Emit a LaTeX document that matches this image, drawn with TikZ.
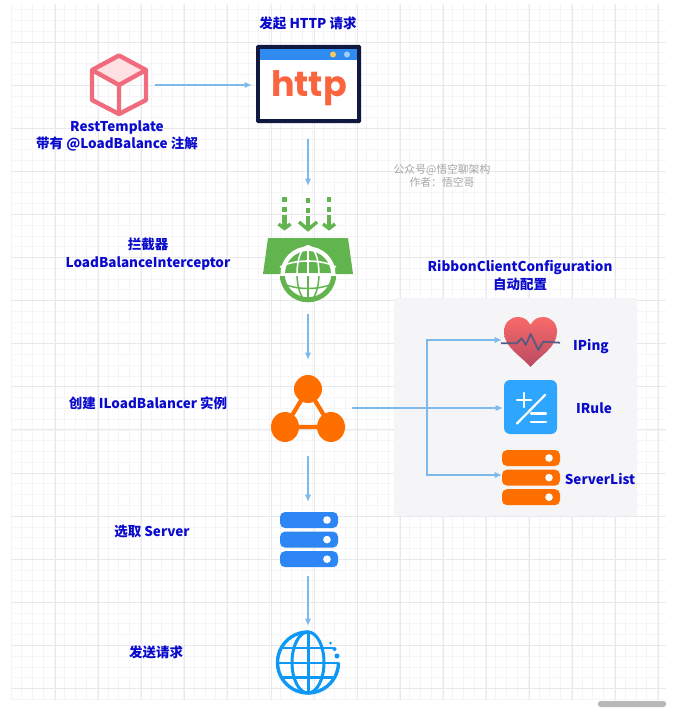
\documentclass[tikz,border=0pt]{standalone}
\usepackage{fontspec}
\setmainfont{Noto Sans CJK SC}
\newfontfamily\httpfont{Poppins}
\usetikzlibrary{arrows.meta}
\definecolor{gridminor}{HTML}{F5F5F8}
\definecolor{gridmajor}{HTML}{E8E8ED}
\definecolor{flowc}{HTML}{7DB9EA}
\definecolor{labelc}{HTML}{0A0ACD}
\definecolor{cubec}{HTML}{F06C7C}
\definecolor{cubetop}{HTML}{FFE1E4}
\definecolor{navy}{HTML}{101A40}
\definecolor{httpblue}{HTML}{2F8BF0}
\definecolor{httpor}{HTML}{FA6540}
\definecolor{dotyel}{HTML}{F5C860}
\definecolor{dotblu}{HTML}{9CD0FA}
\definecolor{green1}{HTML}{62B44F}
\definecolor{orange1}{HTML}{FF6F00}
\definecolor{blue1}{HTML}{2E86F5}
\definecolor{globec}{HTML}{0E98F5}
\definecolor{panelc}{HTML}{F5F5F7}
\definecolor{ruleb}{HTML}{2EA6FF}
\definecolor{hearttop}{HTML}{F96A6A}
\definecolor{heartbot}{HTML}{B94A62}
\definecolor{pulse}{HTML}{565C80}
\tikzset{
  flow/.style={draw=flowc,line width=1.6pt,-{Latex[length=7.5pt,width=6.5pt]}},
  lab/.style={text=labelc,font=\fontsize{13.5}{17.5}\selectfont\bfseries,align=center,inner sep=0pt},
  wmark/.style={text=black!35,font=\fontsize{10.8}{13}\selectfont,align=center,inner sep=0pt},
  iconbox/.style={inner sep=0pt,outer sep=0pt,minimum width=#1},
  gthin/.style={draw=gridminor,line width=.8pt},
  gmaj/.style={draw=gridmajor,line width=.9pt},
}
\newcommand{\srvstack}[5]{% x0 x1 y0 colour dotx
  \foreach \k in {0,1,2}{
    \pgfmathsetmacro{\yy}{#3+\k*19.6}
    \fill[#4,rounded corners=5pt] (#1,\yy) rectangle (#2,\yy+16);
    \fill[white] (#5,\yy+8) circle[radius=3.8];
  }}
\newcommand{\dashdrop}[3]{% x halfwidth ytip
  \draw[green1,line width=3.4pt] (#1-#2+1,#3-#2) -- (#1,#3-2.5) -- (#1+#2-1,#3-#2);
  \fill[green1] (#1-2.2,#3-16) rectangle (#1+2.2,#3-3);
  \fill[green1] (#1-2.2,#3-24) rectangle (#1+2.2,#3-19.5);
  \fill[green1] (#1-2.2,#3-29.5) rectangle (#1+2.2,#3-34);
}
\begin{document}
\begin{tikzpicture}[x=1pt,y=-1pt]
\useasboundingbox[fill=white] (0,0) rectangle (673,709);
% grid
\foreach \k in {0,...,60}{
  \pgfmathsetmacro{\xx}{11.0+\k*10.775}
  \draw[gthin] (\xx,4) -- (\xx,700);
}
\foreach \k in {0,...,64}{
  \pgfmathsetmacro{\yy}{9.7+\k*10.775}
  \draw[gthin] (11,\yy) -- (666,\yy);
}
\foreach \k in {0,...,14}{
  \pgfmathsetmacro{\xx}{55.5+\k*43.1}
  \draw[gmaj] (\xx,4) -- (\xx,700);
}
\foreach \k in {0,...,15}{
  \pgfmathsetmacro{\yy}{42+\k*43.1}
  \draw[gmaj] (11,\yy) -- (666,\yy);
}
% scroll bar
\fill[black!28,rounded corners=2.5pt] (598,701) rectangle (666,707);
% panel
\fill[panelc,rounded corners=3pt] (394,298) rectangle (637,516);

% icon boxes used by connectors
\node[iconbox=72,minimum height=62] (cube) at (119,85) {};
\node[iconbox=112,minimum height=96] (http) at (308,91) {};
\node[iconbox=90,minimum height=128] (icpt) at (308,250) {};
\node[iconbox=88,minimum height=96] (lb) at (308,408) {};
\node[iconbox=62,minimum height=74] (srv) at (308,539) {};
\node[iconbox=64,minimum height=68] (web) at (308,660) {};
\node[iconbox=57,minimum height=50] (iping) at (530.5,340) {};
\node[iconbox=55,minimum height=54] (irule) at (530.5,408) {};
\node[iconbox=57,minimum height=54] (slist) at (530.5,475) {};
\coordinate (fork) at (427,408);

% cube
\fill[cubetop] (119,55) -- (146,70) -- (119,85) -- (92,70) -- cycle;
\draw[cubec,line width=4.4pt,line join=round] (119,55.5) -- (146,70) -- (146,100) -- (119,114) -- (92,100) -- (92,70) -- cycle;
\draw[cubec,line width=4.4pt,line join=round] (92,70) -- (119,85) -- (146,70) (119,85) -- (119,114);

% http window
\fill[navy,rounded corners=1.5pt] (256,45) rectangle (361,123);
\fill[white] (260,49) rectangle (357,119);
\fill[httpblue] (260,49) rectangle (357,60);
\fill[dotyel] (333,54.5) circle[radius=3];
\fill[dotblu] (347,54.5) circle[radius=3];
\node[inner sep=0pt,text=httpor,font=\httpfont\fontsize{35}{35}\selectfont\bfseries] (httptxt) at (309,88) {http};

% interceptor
\dashdrop{284.5}{7}{231}
\dashdrop{308}{10}{232}
\dashdrop{329}{7}{231}
\fill[green1] (268,238) -- (348,238) -- (353,274) -- (263,274) -- cycle;
\fill[white] (308,274) circle[radius=27.5];
\begin{scope}
  \clip (270,240) rectangle (346,272);
  \fill[green1] (308,274) circle[radius=23];
  \draw[white,line width=1.6pt] (308,245) -- (308,275);
  \draw[white,line width=1.6pt] (308,274) ellipse[x radius=11,y radius=28];
  \draw[white,line width=1.6pt] (280,267) .. controls (295,259) and (321,259) .. (336,267);
\end{scope}
\begin{scope}
  \clip (270,276) rectangle (346,304);
  \draw[green1,line width=5pt] (308,274) circle[radius=25.8];
  \draw[green1,line width=1.5pt] (308,274) -- (308,300);
  \draw[green1,line width=1.5pt] (308,274) ellipse[x radius=11,y radius=27];
  \draw[green1,line width=1.5pt] (284,284) .. controls (298,290) and (318,290) .. (332,284);
\end{scope}

% balancer
\draw[orange1,line width=4.2pt] (308,389) -- (285,427) -- (331,427) -- cycle;
\fill[orange1] (308,389) circle[radius=14];
\fill[orange1] (285,427) ellipse[x radius=14,y radius=15];
\fill[orange1] (331,427) ellipse[x radius=14,y radius=15];

% blue server
\srvstack{280}{338}{512}{blue1}{327}

% web globe
\draw[globec,line width=3.4pt,line cap=round] plot[smooth,domain=88:358,samples=40] ({308+30.5*cos(\x)},{662.5-30.5*sin(\x)});
\draw[globec,line width=3pt] (308,662.5) ellipse[x radius=16,y radius=30.5];
\draw[globec,line width=3pt] (308,632) -- (308,693);
\draw[globec,line width=2.8pt] (278,663) -- (338,663);
\draw[globec,line width=2.6pt] (283,648) -- (333,648);
\draw[globec,line width=2.6pt] (283,677.5) -- (333,677.5);
\fill[globec] (337,656) circle[radius=2.5];
\fill[globec] (334.5,649) circle[radius=2];
\fill[globec] (330.5,643) circle[radius=1.5];

% heart
\shade[top color=hearttop,bottom color=heartbot]
  (530.5,367) .. controls (520,355) and (504,347) .. (504,332)
  .. controls (504,323) and (510,317) .. (518,317)
  .. controls (524,317) and (528,320) .. (530.5,325)
  .. controls (533,320) and (537,317) .. (543,317)
  .. controls (551,317) and (557,323) .. (557,332)
  .. controls (557,347) and (541,355) .. (530.5,367) -- cycle;
\draw[pulse,line width=1.8pt,line join=round] (501,343.3) -- (516.7,343.3) -- (521.7,338.3) -- (525.7,345) -- (530.7,334) -- (538.3,350) -- (543.3,341.7) -- (560,342.7);

% rule tile
\fill[ruleb,rounded corners=6pt] (504,380) rectangle (557,434);
\draw[white,line width=2.2pt,line cap=round] (517,423.5) -- (545,395);
\draw[white,line width=2.2pt,line cap=round] (517,400) -- (531,400) (524,393) -- (524,407);
\draw[white,line width=2.2pt,line cap=round] (531,413.5) -- (546,413.5) (531,422) -- (546,422);

% orange server
\srvstack{502}{560}{450}{orange1}{549}

% connectors
\draw[flow] (cube.east) -- (cube.east -| http.west);
\draw[flow] (http.south) -- (icpt.north);
\draw[flow] (icpt.south) -- (lb.north);
\draw[flow] (lb.south) -- (srv.north);
\draw[flow] (srv.south) -- (web.north);
\draw[flow] (lb.east) -- (irule.west);
\draw[flow] (fork) |- (iping.west);
\draw[flow] (fork) |- (slist.west);

% labels
\node[lab] (t1) at (308,23) {发起 HTTP 请求};
\node[lab] (t2) at (117,136) {RestTemplate\\带有 @LoadBalance 注解};
\node[lab] (t3) at (148,254) {拦截器\\LoadBalanceInterceptor};
\node[lab] (t4) at (148,403) {创建 ILoadBalancer 实例};
\node[lab] (t5) at (152,532) {选取 Server};
\node[lab] (t6) at (156,652) {发送请求};
\node[lab] (t7) at (520,275.5) {RibbonClientConfiguration\\自动配置};
\node[lab] (t8) at (591,346) {IPing};
\node[lab] (t9) at (594,408) {IRule};
\node[lab] (t10) at (600,479) {ServerList};
\node[wmark] (wm) at (442,175.5) {公众号@悟空聊架构\\作者：悟空哥};
\end{tikzpicture}
\end{document}
